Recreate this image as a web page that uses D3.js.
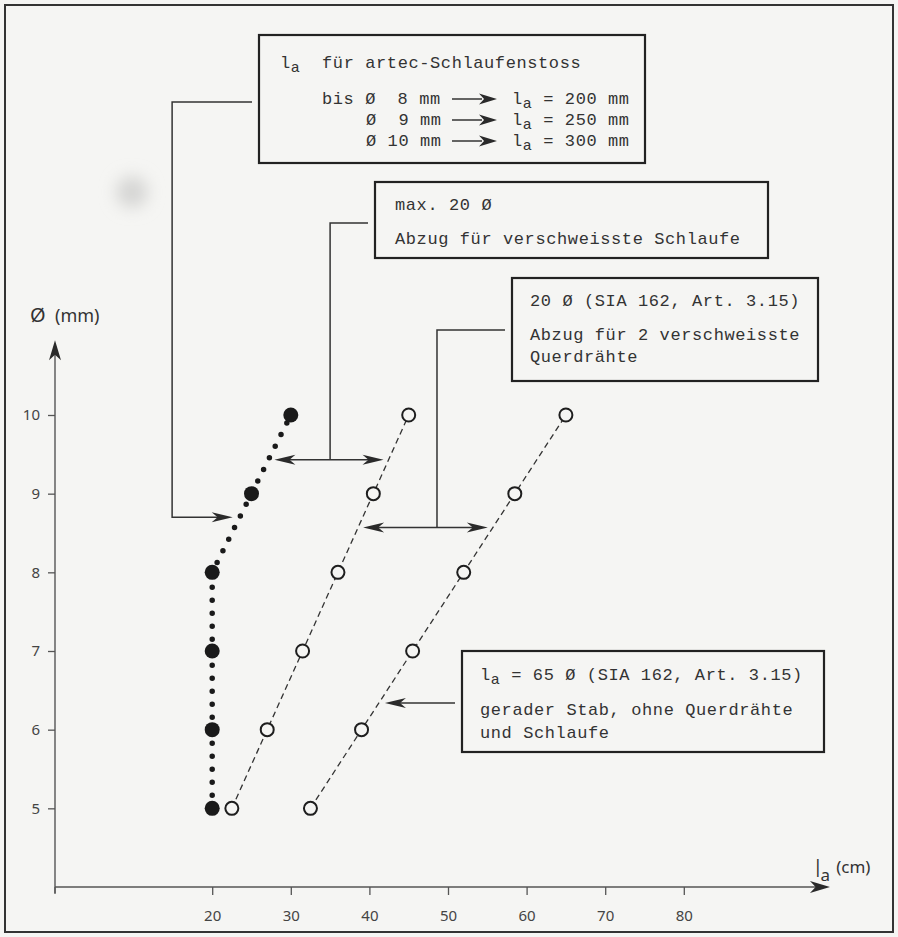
<!DOCTYPE html>
<html><head><meta charset="utf-8">
<script src="https://cdn.jsdelivr.net/npm/d3@7"></script>
<style>
html,body{margin:0;padding:0;background:#f5f5f3;}
svg{display:block;}
.mono{font-family:"Liberation Mono","DejaVu Sans Mono",monospace;font-size:17px;fill:#333;letter-spacing:0.6px;white-space:pre;}
.ax text{font-family:"Noto Sans",sans-serif;font-size:15px;fill:#444;}
</style></head>
<body>
<script>
// ---- data ----
const diameters = [5, 6, 7, 8, 9, 10];            // Ø (mm)
const laArtec   = [20, 20, 20, 20, 25, 30];       // artec loop splice (cm)
const la45      = [22.5, 27, 31.5, 36, 40.5, 45]; // 45 Ø (cm)
const la65      = [32.5, 39, 45.5, 52, 58.5, 65]; // 65 Ø (cm)
const xTicks    = [20, 30, 40, 50, 60, 70, 80];
const yTicks    = [5, 6, 7, 8, 9, 10];

const W = 898, H = 937;
const svg = d3.select("body").append("svg").attr("width", W).attr("height", H);

const defs = svg.append("defs");
defs.append("filter").attr("id","blur").attr("x","-100%").attr("y","-100%")
  .attr("width","300%").attr("height","300%")
  .append("feGaussianBlur").attr("stdDeviation", 8);

svg.append("rect").attr("width", W).attr("height", H).attr("fill", "#f5f5f3");
svg.append("circle").attr("cx",132).attr("cy",192).attr("r",16).attr("fill","#d6d6d4").attr("filter","url(#blur)");
// outer frame
svg.append("rect").attr("x",5).attr("y",5).attr("width",888).attr("height",927)
  .attr("fill","none").attr("stroke","#333").attr("stroke-width",2);

const x = d3.scaleLinear().domain([0, 80]).range([55, 55 + 80 * 7.86]);
const y = d3.scaleLinear().domain([4, 10]).range([887, 415]);

const ink = "#2a2a2a";
function arrowHead(g, tx, ty, angle, len = 21, half = 5) {
  const p = `M0,0 L${-len},${-half} L${-len*0.72},0 L${-len},${half} Z`;
  g.append("path").attr("d", p).attr("fill", ink)
    .attr("transform", `translate(${tx},${ty}) rotate(${angle})`);
}

// ---- axes ----
const gx = svg.append("g").attr("class","ax").attr("transform",`translate(0,${y(4)})`)
  .call(d3.axisBottom(x).tickValues(xTicks).tickFormat(d3.format("d")).tickSize(8).tickPadding(15));
gx.select(".domain").remove();
gx.selectAll("line").attr("stroke","#555").attr("stroke-width",1.3);
const gy = svg.append("g").attr("class","ax").attr("transform",`translate(${x(0)},0)`)
  .call(d3.axisLeft(y).tickValues(yTicks).tickFormat(d3.format("d")).tickSize(7).tickPadding(8));
gy.select(".domain").remove();
gy.selectAll("line").attr("stroke","#555").attr("stroke-width",1.3);

const xEnd = 98.6, yEnd = 10.95;
svg.append("line").attr("x1",x(0)).attr("x2",x(xEnd)-14).attr("y1",y(4)).attr("y2",y(4))
  .attr("stroke","#555").attr("stroke-width",1.4);
svg.append("line").attr("x1",x(0)).attr("x2",x(0)).attr("y1",y(4)+6).attr("y2",y(yEnd)+14)
  .attr("stroke","#555").attr("stroke-width",1.4);
svg.append("line").attr("x1",x(0)).attr("x2",x(0)).attr("y1",y(4)).attr("y2",y(4)+7)
  .attr("stroke","#555").attr("stroke-width",1.3);
arrowHead(svg, x(xEnd), y(4), 0, 20, 6);
arrowHead(svg, x(0), y(yEnd), -90, 20, 6);

// axis titles
const yt = svg.append("text").attr("x",30).attr("y",322).style("white-space","pre")
  .style("font-family","Noto Sans, sans-serif").attr("fill","#333");
yt.append("tspan").style("font-size","20px").text("Ø");
yt.append("tspan").style("font-size","18px").text("  (mm)");
const xt = svg.append("text").attr("x",815).attr("y",877)
  .style("font-family","Noto Sans, sans-serif").attr("fill","#333");
xt.append("tspan").style("font-size","24px").style("font-weight","300").text("l");
xt.append("tspan").style("font-size","17px").attr("dy",4).text("a");
xt.append("tspan").style("font-size","17px").attr("dy",-8).attr("dx",6).text("(cm)");

// ---- series ----
const pts = (arr) => diameters.map((d, i) => [x(arr[i]), y(d)]);
const line = d3.line();
svg.append("path").attr("d", line(pts(la45))).attr("fill","none")
  .attr("stroke","#333").attr("stroke-width",1.3).attr("stroke-dasharray","6 4");
svg.append("path").attr("d", line(pts(la65))).attr("fill","none")
  .attr("stroke","#333").attr("stroke-width",1.3).attr("stroke-dasharray","6 4");
svg.append("path").attr("d", line(pts(laArtec))).attr("fill","none")
  .attr("stroke","#1a1a1a").attr("stroke-width",5.5).attr("stroke-linecap","round")
  .attr("stroke-dasharray","0 13");

[la45, la65].forEach(arr => {
  svg.append("g").selectAll("circle").data(pts(arr)).join("circle")
    .attr("cx", d => d[0]).attr("cy", d => d[1]).attr("r", 6.5)
    .attr("fill", "#f5f5f3").attr("stroke", "#1e1e1e").attr("stroke-width", 2);
});
svg.append("g").selectAll("circle").data(pts(laArtec)).join("circle")
  .attr("cx", d => d[0]).attr("cy", d => d[1]).attr("r", 7.5).attr("fill", "#1a1a1a");

// value of a series at a diameter (linear between readings)
function at(arr, d) {
  const i = Math.min(diameters.length - 2, Math.max(0, d3.bisectRight(diameters, d) - 1));
  const t = (d - diameters[i]) / (diameters[i+1] - diameters[i]);
  return arr[i] + t * (arr[i+1] - arr[i]);
}

// ---- annotation boxes ----
function box(x0, y0, x1, y1) {
  svg.append("rect").attr("x",x0).attr("y",y0).attr("width",x1-x0).attr("height",y1-y0)
    .attr("fill","none").attr("stroke","#222").attr("stroke-width",2.2);
}
function mtext(xp, yp, parts) {
  const t = svg.append("text").attr("class","mono").attr("x",xp).attr("y",yp);
  parts.forEach(p => {
    if (typeof p === "string") t.append("tspan").text(p);
    else t.append("tspan").attr("dy", p.dy).style("font-size", p.fs || null).text(p.t);
  });
  return t;
}
const stroke = (g) => g.attr("stroke","#333").attr("stroke-width",1.5).attr("fill","none");

// Box 1
box(259, 35, 645, 163);
mtext(280, 68, ["l", {t:"a", dy:4, fs:"15px"}, {t:"  für artec-Schlaufenstoss", dy:-4}]);
const rows = [["bis Ø  8 mm", 322, "200"], ["Ø  9 mm", 366, "250"], ["Ø 10 mm", 366, "300"]];
const rowY = [104, 125, 146];
rows.forEach((r, i) => {
  mtext(r[1], rowY[i], [r[0]]);
  svg.append("line").attr("x1",452).attr("x2",482).attr("y1",rowY[i]-5).attr("y2",rowY[i]-5).call(stroke);
  arrowHead(svg, 497, rowY[i]-5, 0, 18, 5.5);
  mtext(512, rowY[i], ["l", {t:"a", dy:4, fs:"15px"}, {t:" = " + r[2] + " mm", dy:-4}]);
});
// connector 1
{
  const d = 8.70, cx = x(14.9), yy = y(d), tip = x(at(laArtec, d)) - 7;
  svg.append("path").attr("d", `M252,102 H${cx} V${yy} H${tip-8}`).call(stroke);
  arrowHead(svg, tip, yy, 0);
}

// Box 2
box(375, 182, 768, 258);
mtext(395, 210, ["max. 20 Ø"]);
mtext(395, 244, ["Abzug für verschweisste Schlaufe"]);
{
  const d = 9.43, cx = x(35), yy = y(d);
  const l = x(at(laArtec, d)) + 6, r = x(at(la45, d)) - 5;
  svg.append("path").attr("d", `M368,223 H${cx} V${yy}`).call(stroke);
  svg.append("line").attr("x1",l+8).attr("x2",r-8).attr("y1",yy).attr("y2",yy).call(stroke);
  arrowHead(svg, l, yy, 180); arrowHead(svg, r, yy, 0);
}

// Box 3
box(512, 278, 818, 381);
mtext(530, 306, ["20 Ø (SIA 162, Art. 3.15)"]);
mtext(530, 340, ["Abzug für 2 verschweisste"]);
mtext(530, 362, ["Querdrähte"]);
{
  const d = 8.57, cx = x(48.6), yy = y(d);
  const l = x(at(la45, d)) + 5, r = x(at(la65, d)) - 5;
  svg.append("path").attr("d", `M505,330 H${cx} V${yy}`).call(stroke);
  svg.append("line").attr("x1",l+8).attr("x2",r-8).attr("y1",yy).attr("y2",yy).call(stroke);
  arrowHead(svg, l, yy, 180); arrowHead(svg, r, yy, 0);
}

// Box 4
box(462, 651, 824, 752);
mtext(480, 680, ["l", {t:"a", dy:4, fs:"15px"}, {t:" = 65 Ø (SIA 162, Art. 3.15)", dy:-4}]);
mtext(480, 715, ["gerader Stab, ohne Querdrähte"]);
mtext(480, 738, ["und Schlaufe"]);
{
  const d = 6.34, yy = y(d), tip = x(at(la65, d)) + 6;
  svg.append("line").attr("x1",455).attr("x2",tip+8).attr("y1",yy).attr("y2",yy).call(stroke);
  arrowHead(svg, tip, yy, 180);
}
</script>
</body></html>
